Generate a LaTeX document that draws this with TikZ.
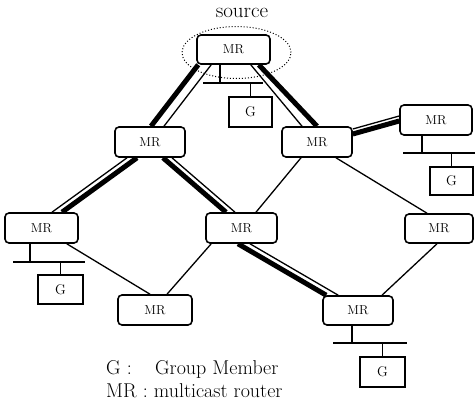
\documentclass[tikz,border=0pt]{standalone}
\usetikzlibrary{backgrounds}
\begin{document}
\begin{tikzpicture}[x=1pt,y=-1pt,
  mrbox/.style={draw, line width=1.6pt, rounded corners=4pt, fill=white, minimum width=71pt, minimum height=29pt, inner sep=0pt, font=\fontsize{13}{13}\selectfont},
  gbox/.style={draw, line width=1.4pt, fill=white, minimum width=44pt, minimum height=29pt, inner sep=0pt, font=\fontsize{14}{14}\selectfont},
  link/.style={line width=1.3pt},
  heavy/.style={line width=5pt},
  lan/.style={line width=1.5pt},
  lbl/.style={font=\fontsize{20}{20}\selectfont, inner sep=0pt, anchor=base west}]
\useasboundingbox (0,0) rectangle (475,407);

% routers
\node[mrbox, minimum width=73pt] (src) at (233.5,49.5) {MR};
\node[mrbox, minimum width=70pt, minimum height=30pt] (l2l) at (150,142) {MR};
\node[mrbox, minimum width=70pt, minimum height=30pt] (l2r) at (317,142) {MR};
\node[mrbox, minimum width=72pt, minimum height=30pt] (tr) at (436,120) {MR};
\node[mrbox, minimum width=73pt, minimum height=30pt] (l3l) at (41.5,228) {MR};
\node[mrbox, minimum width=71pt, minimum height=30pt] (l3m) at (241.5,228) {MR};
\node[mrbox, minimum width=68pt] (l3r) at (439,228.5) {MR};
\node[mrbox, minimum width=74pt, minimum height=30pt] (l4l) at (155,310) {MR};
\node[mrbox, minimum width=70pt] (l4r) at (358,310.5) {MR};

% group members
\node[gbox, minimum width=43pt, minimum height=30pt] (g1) at (250.5,112) {G};
\node[gbox, minimum width=43pt, minimum height=28pt] (g2) at (451.5,181) {G};
\node[gbox, minimum width=45pt] (g3) at (60.5,289.5) {G};
\node[gbox, minimum width=45pt, minimum height=30pt] (g4) at (382.5,372) {G};

% labels
\node[font=\fontsize{21}{21}\selectfont, inner sep=0pt, anchor=base] (srclbl) at (242,17) {source};
\node[lbl] (lg1) at (106,374) {G :};
\node[lbl] (lg2) at (155,374) {Group Member};
\node[lbl] (lg3) at (106,397) {MR : multicast router};

% LAN coordinates
\coordinate (b1l) at (203,83);  \coordinate (b1r) at (263,83);
\coordinate (b2l) at (403,153); \coordinate (b2r) at (475,153);
\coordinate (b3l) at (13,262);  \coordinate (b3r) at (85,262);
\coordinate (b4l) at (333,343); \coordinate (b4r) at (407,343);

\begin{scope}[on background layer]
  % source scope
  \draw[dotted, line width=1pt] ([xshift=3pt,yshift=-3pt]src.center) ellipse [x radius=54.5pt, y radius=26pt];
  % heavy (tree) links with companion thin lines
  \draw[heavy] ([xshift=2pt]src.south west) -- ([xshift=1pt]l2l.north);
  \draw[link]  ([xshift=15pt]src.south west) -- ([xshift=14pt]l2l.north);
  \draw[heavy] ([xshift=-12pt]src.south east) -- (l2r.north);
  \draw[link]  ([xshift=-20pt]src.south east) -- ([xshift=-15pt]l2r.north);
  \draw[heavy] ([yshift=8pt]l2r.east) -- ([yshift=-1pt]tr.west);
  \draw[link]  ([yshift=13pt]l2r.east) -- ([yshift=4pt]tr.west);
  \draw[heavy] ([xshift=-13pt]l2l.south) -- ([xshift=20.5pt]l3l.north);
  \draw[link]  ([xshift=-23pt]l2l.south) -- ([xshift=10.5pt]l3l.north);
  \draw[heavy] ([xshift=13pt]l2l.south) -- ([xshift=-15.5pt]l3m.north);
  \draw[link]  ([xshift=22pt]l2l.south) -- ([xshift=-6.5pt]l3m.north);
  \draw[heavy] ([xshift=-3.5pt]l3m.south) -- ([xshift=4pt]l4r.north west);
  \draw[link]  ([xshift=8.5pt]l3m.south) -- ([xshift=16pt]l4r.north west);
  % plain links
  \draw[link] ([xshift=-16pt]l2r.south) -- ([xshift=14.5pt]l3m.north);
  \draw[link] ([xshift=19pt]l2r.south) -- ([xshift=-12pt]l3r.north);
  \draw[link] ([xshift=-12pt]l3l.south east) -- ([xshift=-5pt]l4l.north);
  \draw[link] ([xshift=6pt]l3m.south west) -- ([xshift=12pt]l4l.north);
  \draw[link] ([xshift=-2pt]l3r.south) -- ([xshift=24pt]l4r.north);
  % LANs
  \draw[lan] (b1l) -- (b1r);
  \draw[lan] ([xshift=-13.5pt]src.south) -- ([xshift=-13.5pt]src.south |- b1l);
  \draw[lan] (g1.north) -- (g1.north |- b1l);
  \draw[lan] (b2l) -- (b2r);
  \draw[lan] ([xshift=-14pt]tr.south) -- ([xshift=-14pt]tr.south |- b2l);
  \draw[lan] (g2.north) -- (g2.north |- b2l);
  \draw[lan] (b3l) -- (b3r);
  \draw[lan] ([xshift=-11.5pt]l3l.south) -- ([xshift=-11.5pt]l3l.south |- b3l);
  \draw[lan] (g3.north) -- (g3.north |- b3l);
  \draw[lan] (b4l) -- (b4r);
  \draw[lan] ([xshift=-6pt]l4r.south) -- ([xshift=-6pt]l4r.south |- b4l);
  \draw[lan] (g4.north) -- (g4.north |- b4l);
\end{scope}
\end{tikzpicture}
\end{document}
